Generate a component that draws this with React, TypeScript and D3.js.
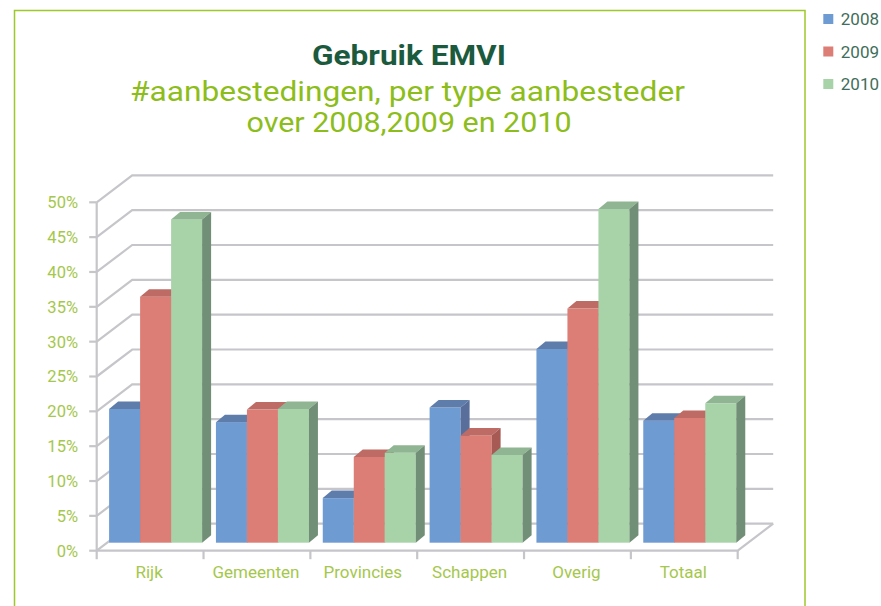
import * as d3 from 'd3';

const categories = ['Rijk', 'Gemeenten', 'Provincies', 'Schappen', 'Overig', 'Totaal'];
const years = ['2008', '2009', '2010'];
const values2008 = [19.2, 17.3, 6.4, 19.4, 27.8, 17.5];
const values2009 = [35.3, 19.1, 12.3, 15.4, 33.6, 17.9];
const values2010 = [46.4, 19.2, 12.9, 12.6, 47.9, 20.0];
const yTicks = [0, 5, 10, 15, 20, 25, 30, 35, 40, 45, 50];

const seriesValues = [values2008, values2009, values2010];

// face colours per series: front, top, side
const colors = [
  { front: '#6f9bd3', top: '#5f7dab', side: '#5a6e9c' },
  { front: '#dd7e76', top: '#bd6b64', side: '#a65a53' },
  { front: '#a8d3a9', top: '#8fb592', side: '#718f76' },
];

const W = 881;
const H = 606;
const gridColor = '#c6c6ca';
const labelColor = '#a5c74c';

// 3D geometry (oblique projection)
const wallDx = 35.5;
const wallDy = -27;
const barDx = 9;
const barDy = -7.5;
const barLift = 8; // bars sit a little behind the front floor edge

const App = () => {
  const y = d3.scaleLinear().domain([0, 50]).range([550.7, 202.3]);
  const x = d3.scaleBand().domain(categories).range([96.7, 737.7]).padding(0);
  const inner = d3.scaleBand().domain(years).range([12.4, 12.4 + 93]).padding(0);

  const x0 = 96.7;
  const x1 = 737.7;
  const y0 = y(0);

  const bars: JSX.Element[] = [];
  categories.forEach((cat, ci) => {
    years.forEach((yr, si) => {
      const v = seriesValues[si][ci];
      const bx = (x(cat) ?? 0) + (inner(yr) ?? 0);
      const bw = inner.bandwidth();
      const by0 = y0 - barLift;
      const by1 = y(v) - barLift;
      const c = colors[si];
      bars.push(
        <g key={`${cat}-${yr}`}>
          <rect x={bx} y={by1} width={bw} height={by0 - by1} fill={c.front} />
          <path
            d={`M${bx},${by1}L${bx + barDx},${by1 + barDy}L${bx + bw + barDx},${by1 + barDy}L${bx + bw},${by1}Z`}
            fill={c.top}
          />
          <path
            d={`M${bx + bw},${by1}L${bx + bw + barDx},${by1 + barDy}L${bx + bw + barDx},${by0 + barDy}L${bx + bw},${by0}Z`}
            fill={c.side}
          />
        </g>
      );
    });
  });

  return (
    <svg
      width={W}
      height={H}
      style={{ position: 'absolute', left: 0, top: 0, background: '#fff' }}
      fontFamily="Roboto, 'DejaVu Sans', sans-serif"
    >
      <rect x={14.5} y={10.5} width={790.5} height={H + 20} fill="none" stroke="#9fc82a" strokeWidth={1.5} />

      {/* title */}
      <text x={409} y={65} textAnchor="middle" fontSize={28} fontWeight="bold" fill="#1c5a3e" textLength={194} lengthAdjust="spacingAndGlyphs">
        Gebruik EMVI
      </text>
      <text x={407.5} y={101} textAnchor="middle" fontSize={28.5} fill="#8cbd1a" textLength={555} lengthAdjust="spacingAndGlyphs">
        #aanbestedingen, per type aanbesteder
      </text>
      <text x={409} y={131.7} textAnchor="middle" fontSize={28.5} fill="#8cbd1a" textLength={325} lengthAdjust="spacingAndGlyphs">
        over 2008,2009 en 2010
      </text>

      {/* walls: grid lines */}
      <g stroke={gridColor} strokeWidth={2.2} fill="none">
        {yTicks.map((t) => (
          <path
            key={`g${t}`}
            d={`M${x0},${y(t)}L${x0 + wallDx},${y(t) + wallDy}L${x1 + wallDx},${y(t) + wallDy}`}
          />
        ))}
        {/* y axis and ticks */}
        <line x1={x0} y1={y(50)} x2={x0} y2={y0 + 8.5} />
        {yTicks.map((t) => (
          <line key={`t${t}`} x1={x0 - 7.5} y1={y(t)} x2={x0} y2={y(t)} />
        ))}
        {/* floor */}
        <path d={`M${x0},${y0}L${x1},${y0}L${x1 + wallDx},${y0 + wallDy}`} />
        {categories.map((c) => (
          <line key={`c${c}`} x1={(x(c) ?? 0) + x.bandwidth()} y1={y0} x2={(x(c) ?? 0) + x.bandwidth()} y2={y0 + 8.5} />
        ))}
      </g>

      {bars}

      {/* y labels */}
      {yTicks.map((t) => (
        <text key={`yl${t}`} x={78} y={y(t)} dy="0.36em" textAnchor="end" fontSize={16.5} fill={labelColor}>
          {`${t}%`}
        </text>
      ))}

      {/* category labels */}
      {categories.map((c) => (
        <text key={`xl${c}`} x={(x(c) ?? 0) + x.bandwidth() / 2 - 1} y={577.5} textAnchor="middle" fontSize={17} fill={labelColor}>
          {c}
        </text>
      ))}

      {/* legend */}
      {years.map((yr, i) => (
        <g key={`lg${yr}`} transform={`translate(823.3,${14 + i * 32.5})`}>
          <rect width={10} height={10} fill={colors[i].front} />
          <text x={17.5} y={11} fontSize={17} fill="#3f6e5a">
            {yr}
          </text>
        </g>
      ))}
    </svg>
  );
};

export default App;
